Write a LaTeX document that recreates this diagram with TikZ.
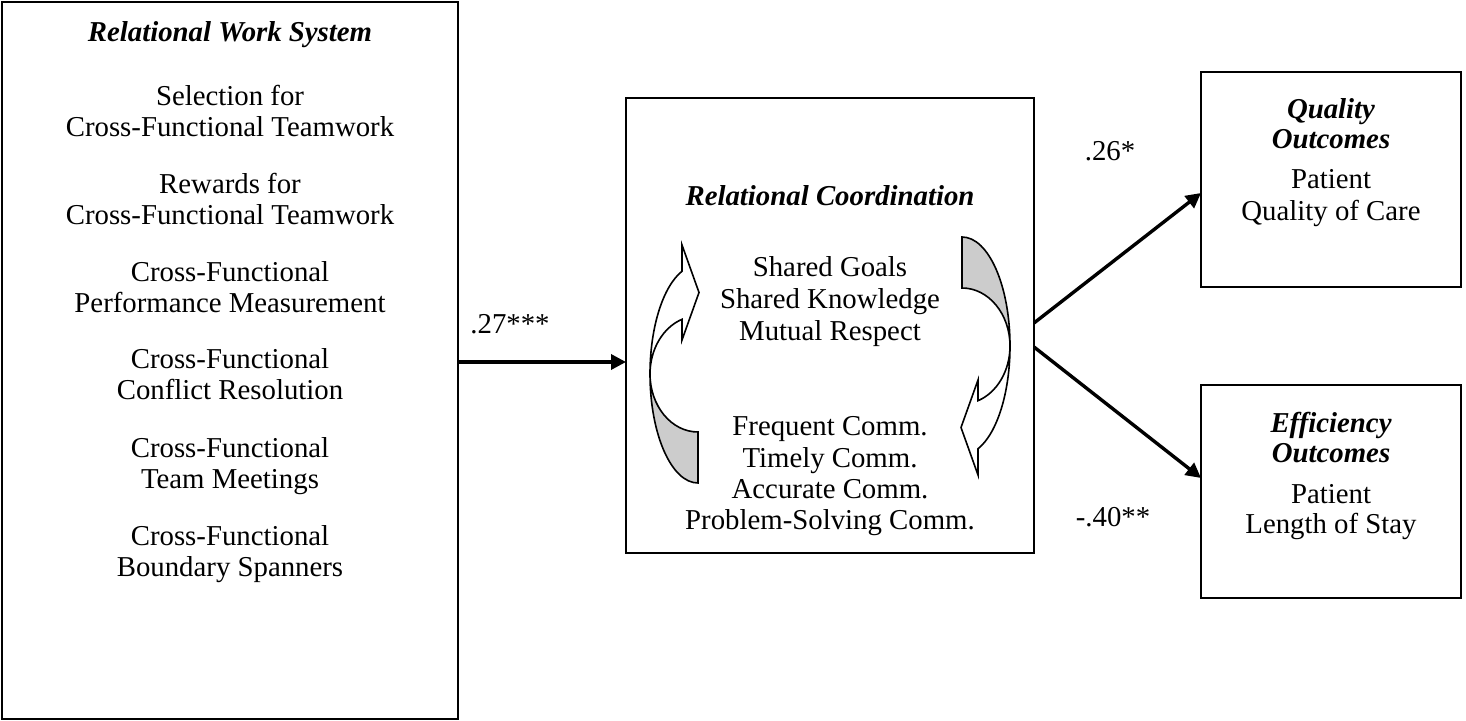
\documentclass[tikz,border=0pt]{standalone}
\usepackage{fontspec}
\setmainfont{Liberation Serif}
\usetikzlibrary{arrows.meta}
\begin{document}
\begin{tikzpicture}[x=0.5pt,y=-0.5pt,
  box/.style={draw,line width=1pt,inner sep=0pt,outer sep=0pt},
  txt/.style={anchor=base,inner sep=0pt,font=\fontsize{14.4}{15.5}\selectfont},
  ttl/.style={txt,font=\fontsize{14.4}{15.5}\selectfont\bfseries\itshape},
  conn/.style={line width=1.7pt,-{Triangle[length=7.5pt,width=7.5pt]}},
  arrowshape/.style={draw,line width=0.8pt,line join=miter},
  curvarrow/.pic={
    \draw[arrowshape,fill=white] (-16,-102.8) -- (-16,-129) -- (1,-81.5) -- (-16,-34) -- (-16,-54.7)
      arc[start angle=250.53,end angle=180,x radius=48,y radius=58]
      arc[start angle=180,end angle=250.53,x radius=48,y radius=109] -- cycle;
    \draw[arrowshape,fill=black!20] (-48,0) arc[start angle=180,end angle=90,x radius=48,y radius=109]
      -- (0,58) arc[start angle=90,end angle=180,x radius=48,y radius=58] -- cycle;
  }]
\useasboundingbox (0,0) rectangle (1466,721);
% boxes (sizes in pt = px/2)
\node[box,minimum width=227.85pt,minimum height=358.8pt] (lws) at (229.85,360.5) {};
\node[box,minimum width=204pt,minimum height=227.5pt] (rc) at (830,325.5) {};
\node[box,minimum width=130pt,minimum height=107.5pt] (qo) at (1331,179.5) {};
\node[box,minimum width=130pt,minimum height=106.5pt] (eo) at (1331,491.5) {};
% connector heights
\coordinate (ya) at (0,362);
\coordinate (yb) at (0,323);
\coordinate (yc) at (0,193);
\coordinate (yd) at (0,347);
\coordinate (ye) at (0,478);
% left box text
\node[ttl] (l0) at (230,42) {Relational Work System};
\node[txt] (l1a) at (230,106) {Selection for};
\node[txt] (l1b) at (230,137) {Cross-Functional Teamwork};
\node[txt] (l2a) at (230,194) {Rewards for};
\node[txt] (l2b) at (230,225) {Cross-Functional Teamwork};
\node[txt] (l3a) at (230,282) {Cross-Functional};
\node[txt] (l3b) at (230,313) {Performance Measurement};
\node[txt] (l4a) at (230,369) {Cross-Functional};
\node[txt] (l4b) at (230,400) {Conflict Resolution};
\node[txt] (l5a) at (230,457) {Cross-Functional};
\node[txt] (l5b) at (230,488) {Team Meetings};
\node[txt] (l6a) at (230,545) {Cross-Functional};
\node[txt] (l6b) at (230,576) {Boundary Spanners};
% middle box text
\node[ttl] (m0) at (830,206) {Relational Coordination};
\node[txt] (m1) at (830,277) {Shared Goals};
\node[txt] (m2) at (830,309) {Shared Knowledge};
\node[txt] (m3) at (830,341) {Mutual Respect};
\node[txt] (m4) at (830,436) {Frequent Comm.};
\node[txt] (m5) at (830,467) {Timely Comm.};
\node[txt] (m6) at (830,498) {Accurate Comm.};
\node[txt] (m7) at (830,529) {Problem-Solving Comm.};
% curved arrows
\pic at (698,374) {curvarrow};
\pic[rotate=180] at (962,346) {curvarrow};
% outcome boxes text
\node[ttl] (q0) at (1331,119) {Quality};
\node[ttl] (q1) at (1331,149) {Outcomes};
\node[txt] (q2) at (1331,189) {Patient};
\node[txt] (q3) at (1331,221) {Quality of Care};
\node[ttl] (e0) at (1331,432) {Efficiency};
\node[ttl] (e1) at (1331,462) {Outcomes};
\node[txt] (e2) at (1331,503) {Patient};
\node[txt] (e3) at (1331,533) {Length of Stay};
% labels
\node[txt] (c1) at (510,334) {.27***};
\node[txt] (c2) at (1110,161) {.26*};
\node[txt] (c3) at (1113,526) {-.40**};
% connectors
\draw[conn] (lws.east |- ya) -- (rc.west |- ya);
\draw[conn] (rc.east |- yb) -- (qo.west |- yc);
\draw[conn] (rc.east |- yd) -- (eo.west |- ye);
\end{tikzpicture}
\end{document}
